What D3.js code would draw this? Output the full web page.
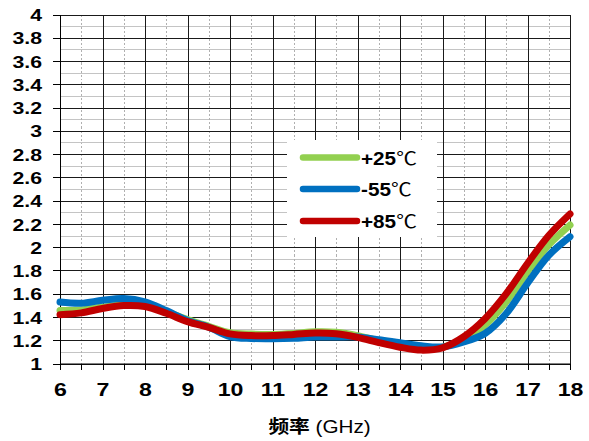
<!DOCTYPE html>
<html>
<head>
<meta charset="utf-8">
<script src="https://cdn.jsdelivr.net/npm/d3@7"></script>
<style>
  html, body { margin: 0; padding: 0; background: #fff; }
  svg { display: block; }
  text { font-family: "Liberation Sans", Arial, "Noto Sans CJK SC", sans-serif; fill: #000; }
</style>
</head>
<body>
<svg id="chart" width="589" height="441"></svg>
<script>
// Frequency sample points (GHz)
const freqs = [6, 6.5, 7, 7.5, 8, 8.5, 9, 9.5, 10, 10.5, 11, 11.5, 12, 12.5,
               13, 13.5, 14, 14.5, 15, 15.5, 16, 16.5, 17, 17.5, 18];

// VSWR per temperature
const vswr25 = [1.455, 1.46, 1.485, 1.505, 1.50, 1.445, 1.378, 1.32, 1.265, 1.253, 1.25, 1.258, 1.272, 1.268,
                1.24, 1.195, 1.155, 1.125, 1.14, 1.205, 1.33, 1.53, 1.79, 2.02, 2.19];
const vswrM55 = [1.528, 1.518, 1.543, 1.558, 1.53, 1.455, 1.37, 1.312, 1.232, 1.215, 1.213, 1.217, 1.228, 1.228,
                 1.228, 1.205, 1.178, 1.152, 1.143, 1.185, 1.258, 1.43, 1.69, 1.93, 2.09];
const vswr85 = [1.42, 1.435, 1.473, 1.498, 1.49, 1.432, 1.36, 1.31, 1.255, 1.24, 1.24, 1.25, 1.262, 1.256,
                1.225, 1.18, 1.14, 1.115, 1.135, 1.23, 1.385, 1.60, 1.86, 2.10, 2.285];

const seriesTemps = ["+25", "-55", "+85"];
const tempUnit = "℃";
const seriesColors = ["#92D050", "#0070C0", "#C00000"];

const xTickValues = [6, 7, 8, 9, 10, 11, 12, 13, 14, 15, 16, 17, 18];
const yTickValues = [1, 1.2, 1.4, 1.6, 1.8, 2, 2.2, 2.4, 2.6, 2.8, 3, 3.2, 3.4, 3.6, 3.8, 4];
const xTitle = "频率";
const xUnit = " (GHz)";

const svg = d3.select("#chart");
const plotLeft = 60, plotRight = 570, plotTop = 14.5, plotBottom = 363.5;
const stretch = 1.25; // wide glyph look of the labels

const x = d3.scaleLinear().domain([6, 18]).range([plotLeft, plotRight]);
const y = d3.scaleLinear().domain([1, 4]).range([plotBottom, plotTop]);

const grid = svg.append("g").attr("shape-rendering", "crispEdges");

// minor horizontal grid (every 0.1)
const minorY = d3.range(11, 40, 2).map(v => v / 10);
grid.selectAll("line.minY").data(minorY).join("line")
  .attr("x1", plotLeft).attr("x2", plotRight)
  .attr("y1", d => Math.round(y(d)) + 0.5).attr("y2", d => Math.round(y(d)) + 0.5)
  .attr("stroke", "#c4c4c4").attr("stroke-width", 1);

// half-GHz dotted verticals
const halfX = d3.range(6.5, 18, 1);
grid.selectAll("line.halfX").data(halfX).join("line")
  .attr("x1", d => Math.round(x(d)) + 0.5).attr("x2", d => Math.round(x(d)) + 0.5)
  .attr("y1", plotTop).attr("y2", plotBottom)
  .attr("stroke", "#b0b0b0").attr("stroke-width", 1).attr("stroke-dasharray", "2,2");

// major horizontal grid (every 0.2)
grid.selectAll("line.majY").data(yTickValues).join("line")
  .attr("x1", plotLeft).attr("x2", plotRight)
  .attr("y1", d => Math.round(y(d)) + 0.5).attr("y2", d => Math.round(y(d)) + 0.5)
  .attr("stroke", "#1a1a1a").attr("stroke-width", 1);

// major vertical grid (every GHz)
grid.selectAll("line.majX").data(xTickValues).join("line")
  .attr("x1", d => Math.round(x(d)) + 0.5).attr("x2", d => Math.round(x(d)) + 0.5)
  .attr("y1", plotTop).attr("y2", plotBottom)
  .attr("stroke", "#1a1a1a").attr("stroke-width", 1);

// Y axis
const yAxis = svg.append("g").attr("transform", `translate(${plotLeft},0)`)
  .call(d3.axisLeft(y).tickValues(yTickValues).tickSize(7).tickSizeOuter(0)
        .tickFormat(d => d3.format("~g")(d)));
yAxis.select(".domain").attr("stroke", "#000");
yAxis.selectAll(".tick line").attr("stroke", "#000").attr("shape-rendering", "crispEdges");
yAxis.selectAll(".tick text")
  .attr("x", -18 / stretch).attr("dy", "0.36em")
  .attr("transform", `scale(${stretch},1)`)
  .style("font-size", "17px").style("font-weight", "bold")
  .style("font-family", "'Liberation Sans', Arial, sans-serif");

// X axis with half-GHz ticks
const xAxis = svg.append("g").attr("transform", `translate(0,${plotBottom})`)
  .call(d3.axisBottom(x).tickValues(d3.range(6, 18.01, 0.5)).tickSize(6).tickSizeOuter(0)
        .tickFormat(d => Number.isInteger(d) ? d : ""));
xAxis.select(".domain").attr("stroke", "#000");
xAxis.selectAll(".tick line").attr("stroke", "#000").attr("shape-rendering", "crispEdges");
xAxis.selectAll(".tick text")
  .attr("x", 0).attr("y", 33).attr("dy", 0)
  .attr("transform", `scale(${stretch},1)`)
  .style("font-size", "18.5px").style("font-weight", "bold")
  .style("font-family", "'Liberation Sans', Arial, sans-serif");

// X axis title
const title = svg.append("text")
  .attr("transform", `translate(319.5,433) scale(1.15,1)`)
  .attr("text-anchor", "middle");
title.append("tspan").text(xTitle)
  .style("font-family", "'Noto Sans CJK SC', sans-serif").style("font-weight", "bold").style("font-size", "18px");
title.append("tspan").text(xUnit)
  .style("font-family", "'Liberation Sans', Arial, sans-serif").style("font-size", "18px");

// series lines
const series = [vswr25, vswrM55, vswr85];
const line = d3.line()
  .x((d, i) => x(freqs[i]))
  .y(d => y(d))
  .curve(d3.curveCatmullRom.alpha(0.5));

svg.append("g").selectAll("path").data(series).join("path")
  .attr("d", d => line(d))
  .attr("fill", "none")
  .attr("stroke", (d, i) => seriesColors[i])
  .attr("stroke-width", 7)
  .attr("stroke-linecap", "round")
  .attr("stroke-linejoin", "round");

// legend
const legend = svg.append("g");
legend.append("rect").attr("x", 287).attr("y", 140).attr("width", 150).attr("height", 97).attr("fill", "#fff");
const legendY = [157.5, 189, 221];
seriesTemps.forEach((t, i) => {
  legend.append("line")
    .attr("x1", 303).attr("x2", 357)
    .attr("y1", legendY[i]).attr("y2", legendY[i])
    .attr("stroke", seriesColors[i]).attr("stroke-width", 6.5).attr("stroke-linecap", "round");
  const txt = legend.append("text")
    .attr("transform", `translate(361,${legendY[i] + 7}) scale(1.12,1)`)
    .style("font-size", "18.5px");
  txt.append("tspan").text(t)
    .style("font-weight", "bold")
    .style("font-family", "'Liberation Sans', Arial, sans-serif");
  txt.append("tspan").text(tempUnit)
    .style("font-family", "'Noto Sans CJK SC', sans-serif");
});
</script>
</body>
</html>
